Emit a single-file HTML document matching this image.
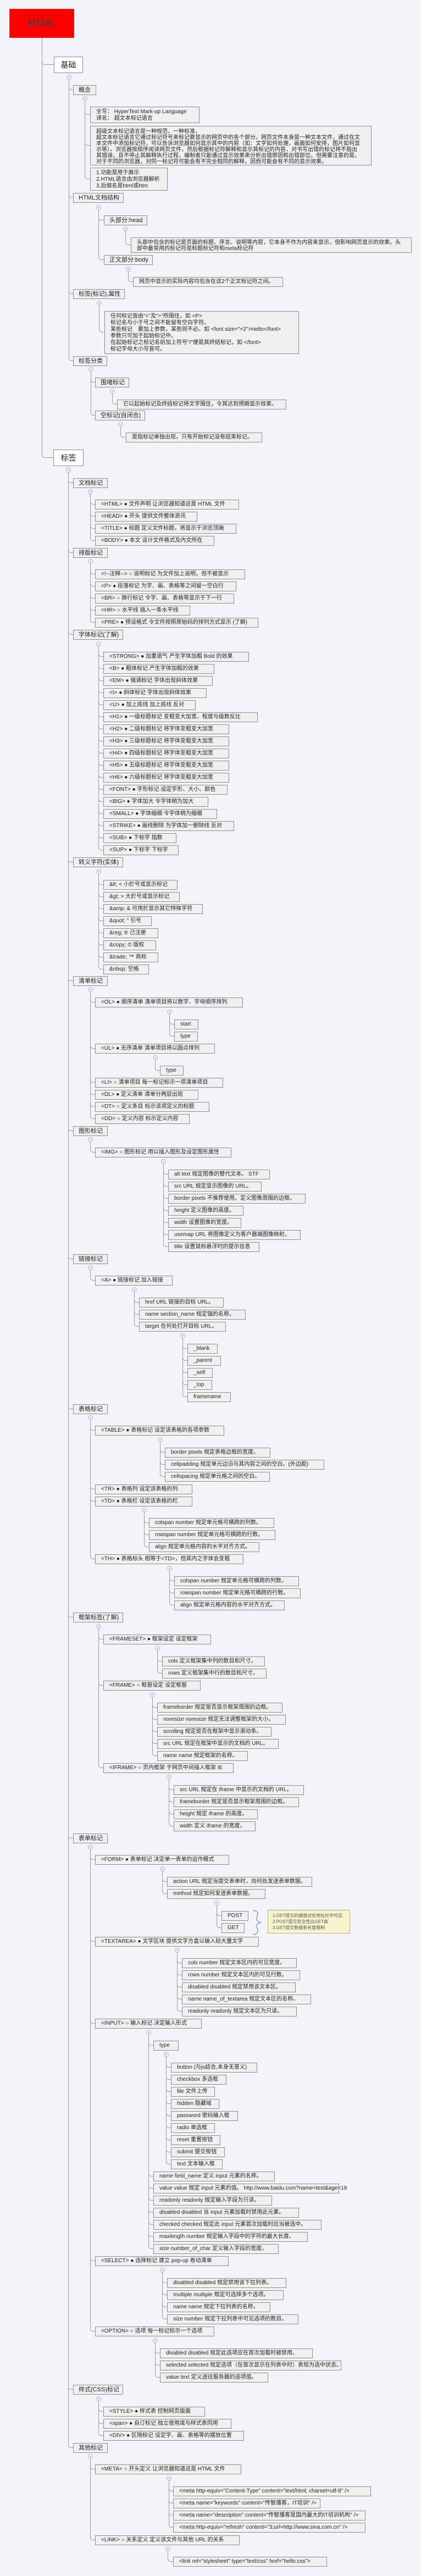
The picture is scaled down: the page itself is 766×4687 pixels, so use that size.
<!DOCTYPE html>
<html><head><meta charset="utf-8"><style>
html,body{margin:0;padding:0}
body{width:766px;height:4687px;background:#f3f4f9;position:relative;overflow:hidden;font-family:"Liberation Sans","Noto Sans CJK SC",sans-serif;color:#222}
.n{position:absolute;height:18px;box-sizing:border-box;border:1px solid #8c8c8c;background:#f0f0f0;font-size:10px;line-height:16px;padding-left:10px;white-space:nowrap;overflow:visible}
.k{font-size:11px;padding-left:9px}
.m{height:auto;line-height:12px;padding:3px 10px}
.v{position:absolute;width:1px;background:#9a9a9a}
.s{position:absolute;height:6px;border-left:1px solid #9a9a9a;border-bottom:1px solid #9a9a9a;border-bottom-left-radius:5px;box-sizing:border-box}
.c{position:absolute;width:9px;height:9px;box-sizing:border-box;border:1px solid #a8b4e0;border-radius:50%;background:#f6f7fc}
.c:after{content:"";position:absolute;left:2px;top:3px;width:3px;height:1px;background:#8090c8}
.big{position:absolute;box-sizing:border-box;border:1px solid #8c8c8c;background:#fff;font-size:14px;text-align:center;line-height:28px;height:30px}
</style></head><body>

<div style="position:absolute;left:17px;top:16px;width:118px;height:53px;background:#ff0000;border:1px solid #b33;box-sizing:border-box;text-align:center;line-height:51px;font-size:18px;font-weight:bold;color:#6a3030">HTML</div>

<!-- root -->
<div class="v" style="left:76px;top:69px;height:758px"></div>
<div class="s" style="left:76px;top:112px;width:22px"></div>
<div class="s" style="left:76px;top:827px;width:21px"></div>
<div class="big" style="left:98px;top:103px;width:53px">基础</div>
<div class="big" style="left:97px;top:818px;width:55px">标签</div>

<!-- 基础 -->
<div class="c" style="left:121px;top:136px"></div>
<div class="v" style="left:125px;top:144px;height:507px"></div>
<div class="s" style="left:125px;top:158px;width:8px"></div>
<div class="s" style="left:125px;top:354px;width:8px"></div>
<div class="s" style="left:125px;top:529px;width:8px"></div>
<div class="s" style="left:125px;top:651px;width:8px"></div>
<div class="n k" style="left:133px;top:155px;width:42px">概念</div>
<div class="n k" style="left:133px;top:351px;width:92px">HTML文档结构</div>
<div class="n k" style="left:133px;top:526px;width:94px">标签(标记),属性</div>
<div class="n k" style="left:133px;top:648px;width:62px">标签分类</div>

<div class="c" style="left:150px;top:175px"></div>
<div class="v" style="left:154px;top:183px;height:137px"></div>
<div class="s" style="left:154px;top:203px;width:10px"></div>
<div class="s" style="left:154px;top:259px;width:10px"></div>
<div class="s" style="left:154px;top:320px;width:10px"></div>
<div class="n m" style="left:164px;top:194px;width:199px;height:30px">全写： HyperText Mark-up Language<br>译名： 超文本标记语言</div>
<div class="n m" style="left:164px;top:229px;width:512px;height:72px;line-height:11px;padding-top:4px">超级文本标记语言是一种规范，一种标准，<br>超文本标记语言它通过标记符号来标记要显示的网页中的各个部分。网页文件本身是一种文本文件，通过在文<br>本文件中添加标记符，可以告诉浏览器如何显示其中的内容（如：文字如何处理，画面如何安排，图片如何显<br>示等）。浏览器按顺序阅读网页文件，然后根据标记符解释和显示其标记的内容，对书写出错的标记将不指出<br>其错误，且不停止其解释执行过程，编制者只能通过显示效果来分析出错原因和出错部位。但需要注意的是，<br>对于不同的浏览器，对同一标记符可能会有不完全相同的解释，因而可能会有不同的显示效果。</div>
<div class="n m" style="left:164px;top:305px;width:141px;height:42px">1.功能是用于展示<br>2.HTML语言由浏览器解析<br>3.后缀名是html或htm</div>

<div class="c" style="left:175px;top:373px"></div>
<div class="v" style="left:179px;top:381px;height:86px"></div>
<div class="s" style="left:179px;top:395px;width:10px"></div>
<div class="s" style="left:179px;top:467px;width:10px"></div>
<div class="n k" style="left:189px;top:392px;width:79px">头部分:head</div>
<div class="n k" style="left:189px;top:464px;width:89px">正文部分:body</div>
<div class="c" style="left:224px;top:412px"></div>
<div class="v" style="left:228px;top:420px;height:20px"></div>
<div class="s" style="left:228px;top:440px;width:10px"></div>
<div class="n m" style="left:238px;top:432px;width:511px;height:28px;line-height:11px">头部中包含的标记是页面的标题、序言、说明等内容，它本身不作为内容来显示，但影响网页显示的效果。头<br>部中最常用的标记符是标题标记符和meta标记符</div>
<div class="c" style="left:229px;top:485px"></div>
<div class="v" style="left:233px;top:493px;height:14px"></div>
<div class="s" style="left:233px;top:507px;width:9px"></div>
<div class="n" style="left:242px;top:504px;width:273px">网页中显示的实际内容均包含在这2个正文标记符之间。</div>

<div class="c" style="left:176px;top:547px"></div>
<div class="v" style="left:180px;top:555px;height:44px"></div>
<div class="s" style="left:180px;top:599px;width:10px"></div>
<div class="n m" style="left:190px;top:566px;width:354px;height:78px">任何标记皆由"&lt;"及"&gt;"所围住，如 &lt;P&gt;<br>标记名与小于号之间不能留有空白字符。<br>某些标记　要加上参数，某些则不必。如 &lt;font size="+2"&gt;Hello&lt;/font&gt;<br>参数只可加于起始标记中。<br>在起始标记之标记名前加上符号"/"便是其终结标记，如 &lt;/font&gt;<br>标记字母大小写皆可。</div>

<div class="c" style="left:161px;top:668px"></div>
<div class="v" style="left:165px;top:676px;height:74px"></div>
<div class="s" style="left:165px;top:690px;width:8px"></div>
<div class="s" style="left:165px;top:750px;width:8px"></div>
<div class="n k" style="left:173px;top:687px;width:62px">围堵标记</div>
<div class="n k" style="left:173px;top:747px;width:91px">空标记(自闭合)</div>
<div class="c" style="left:200px;top:707px"></div>
<div class="v" style="left:204px;top:715px;height:15px"></div>
<div class="s" style="left:204px;top:730px;width:9px"></div>
<div class="n" style="left:213px;top:727px;width:308px">它以起始标记及终结标记将文字围住，令其达到预期显示效果。</div>
<div class="c" style="left:215px;top:768px"></div>
<div class="v" style="left:219px;top:776px;height:14px"></div>
<div class="s" style="left:219px;top:790px;width:10px"></div>
<div class="n" style="left:229px;top:787px;width:248px">是指标记单独出现，只有开始标记没有结束标记。</div>

<!-- 标签 -->
<div class="c" style="left:120px;top:851px"></div>
<div class="v" style="left:124px;top:859px;height:3589px"></div>
<div class="s" style="left:124px;top:873px;width:9px"></div>
<div class="s" style="left:124px;top:1000px;width:9px"></div>
<div class="s" style="left:124px;top:1149px;width:9px"></div>
<div class="s" style="left:124px;top:1563px;width:9px"></div>
<div class="s" style="left:124px;top:1779px;width:9px"></div>
<div class="s" style="left:124px;top:2052px;width:9px"></div>
<div class="s" style="left:124px;top:2285px;width:9px"></div>
<div class="s" style="left:124px;top:2558px;width:9px"></div>
<div class="s" style="left:124px;top:2937px;width:9px"></div>
<div class="s" style="left:124px;top:3339px;width:9px"></div>
<div class="s" style="left:124px;top:4342px;width:9px"></div>
<div class="s" style="left:124px;top:4448px;width:9px"></div>
<div class="n k" style="left:133px;top:870px;width:63px">文档标记</div>
<div class="n k" style="left:133px;top:997px;width:63px">排版标记</div>
<div class="n k" style="left:133px;top:1146px;width:91px">字体标记(了解)</div>
<div class="n k" style="left:133px;top:1560px;width:91px">转义字符(实体)</div>
<div class="n k" style="left:133px;top:1776px;width:63px">清单标记</div>
<div class="n k" style="left:133px;top:2049px;width:63px">图形标记</div>
<div class="n k" style="left:133px;top:2282px;width:63px">链接标记</div>
<div class="n k" style="left:133px;top:2555px;width:63px">表格标记</div>
<div class="n k" style="left:133px;top:2934px;width:91px">框架标签(了解)</div>
<div class="n k" style="left:133px;top:3336px;width:63px">表单标记</div>
<div class="n k" style="left:133px;top:4339px;width:91px">样式(CSS)标记</div>
<div class="n k" style="left:133px;top:4445px;width:63px">其他标记</div>

<!-- 文档标记 -->
<div class="c" style="left:160px;top:890px"></div>
<div class="v" style="left:164px;top:898px;height:80px"></div>
<div class="s" style="left:164px;top:912px;width:9px"></div>
<div class="s" style="left:164px;top:934px;width:9px"></div>
<div class="s" style="left:164px;top:956px;width:9px"></div>
<div class="s" style="left:164px;top:978px;width:9px"></div>
<div class="n" style="left:173px;top:909px;width:262px">&lt;HTML&gt; ● 文件声明 让浏览器知道这是 HTML 文件</div>
<div class="n" style="left:173px;top:931px;width:186px">&lt;HEAD&gt; ● 开头 提供文件整体资讯</div>
<div class="n" style="left:173px;top:953px;width:257px">&lt;TITLE&gt; ● 标题 定义文件标题，将显示于浏览顶端</div>
<div class="n" style="left:173px;top:975px;width:217px">&lt;BODY&gt; ● 本文 设计文件格式及内文所在</div>

<!-- 排版标记 -->
<div class="c" style="left:160px;top:1017px"></div>
<div class="v" style="left:164px;top:1025px;height:102px"></div>
<div class="s" style="left:164px;top:1039px;width:9px"></div>
<div class="s" style="left:164px;top:1061px;width:9px"></div>
<div class="s" style="left:164px;top:1083px;width:9px"></div>
<div class="s" style="left:164px;top:1105px;width:9px"></div>
<div class="s" style="left:164px;top:1127px;width:9px"></div>
<div class="n" style="left:173px;top:1036px;width:273px">&lt;!--注释--&gt; ○ 说明标记 为文件加上说明，但不被显示</div>
<div class="n" style="left:173px;top:1058px;width:257px">&lt;P&gt; ● 段落标记 为字、画、表格等之间留一空白行</div>
<div class="n" style="left:173px;top:1080px;width:253px">&lt;BR&gt; ○ 换行标记 令字、画、表格等显示于下一行</div>
<div class="n" style="left:173px;top:1102px;width:173px">&lt;HR&gt; ○ 水平线 插入一条水平线</div>
<div class="n" style="left:173px;top:1124px;width:297px">&lt;PRE&gt; ● 预设格式 令文件按照原始码的排列方式显示 (了解)</div>

<!-- 字体标记 -->
<div class="c" style="left:175px;top:1167px"></div>
<div class="v" style="left:179px;top:1175px;height:366px"></div>
<div class="s" style="left:179px;top:1189px;width:9px"></div>
<div class="s" style="left:179px;top:1211px;width:9px"></div>
<div class="s" style="left:179px;top:1233px;width:9px"></div>
<div class="s" style="left:179px;top:1255px;width:9px"></div>
<div class="s" style="left:179px;top:1277px;width:9px"></div>
<div class="s" style="left:179px;top:1299px;width:9px"></div>
<div class="s" style="left:179px;top:1321px;width:9px"></div>
<div class="s" style="left:179px;top:1343px;width:9px"></div>
<div class="s" style="left:179px;top:1365px;width:9px"></div>
<div class="s" style="left:179px;top:1387px;width:9px"></div>
<div class="s" style="left:179px;top:1409px;width:9px"></div>
<div class="s" style="left:179px;top:1431px;width:9px"></div>
<div class="s" style="left:179px;top:1453px;width:9px"></div>
<div class="s" style="left:179px;top:1475px;width:9px"></div>
<div class="s" style="left:179px;top:1497px;width:9px"></div>
<div class="s" style="left:179px;top:1519px;width:9px"></div>
<div class="s" style="left:179px;top:1541px;width:9px"></div>
<div class="n" style="left:188px;top:1186px;width:265px">&lt;STRONG&gt; ● 加重语气 产生字体加粗 Bold 的效果</div>
<div class="n" style="left:188px;top:1208px;width:202px">&lt;B&gt; ● 粗体标记 产生字体加粗的效果</div>
<div class="n" style="left:188px;top:1230px;width:199px">&lt;EM&gt; ● 强调标记 字体出现斜体效果</div>
<div class="n" style="left:188px;top:1252px;width:188px">&lt;I&gt; ● 斜体标记 字体出现斜体效果</div>
<div class="n" style="left:188px;top:1274px;width:168px">&lt;U&gt; ● 加上底线 加上底线 反对</div>
<div class="n" style="left:188px;top:1296px;width:281px">&lt;H1&gt; ● 一级标题标记 变粗变大加宽，程度与级数反比</div>
<div class="n" style="left:188px;top:1318px;width:229px">&lt;H2&gt; ● 二级标题标记 将字体变粗变大加宽</div>
<div class="n" style="left:188px;top:1340px;width:229px">&lt;H3&gt; ● 三级标题标记 将字体变粗变大加宽</div>
<div class="n" style="left:188px;top:1362px;width:229px">&lt;H4&gt; ● 四级标题标记 将字体变粗变大加宽</div>
<div class="n" style="left:188px;top:1384px;width:229px">&lt;H5&gt; ● 五级标题标记 将字体变粗变大加宽</div>
<div class="n" style="left:188px;top:1406px;width:229px">&lt;H6&gt; ● 六级标题标记 将字体变粗变大加宽</div>
<div class="n" style="left:188px;top:1428px;width:226px">&lt;FONT&gt; ● 字形标记 设定字形、大小、颜色</div>
<div class="n" style="left:188px;top:1450px;width:191px">&lt;BIG&gt; ● 字体加大 令字体稍为加大</div>
<div class="n" style="left:188px;top:1472px;width:207px">&lt;SMALL&gt; ● 字体缩细 令字体稍为缩细</div>
<div class="n" style="left:188px;top:1494px;width:238px">&lt;STRIKE&gt; ● 画线删除 为字体加一删除线 反对</div>
<div class="n" style="left:188px;top:1516px;width:133px">&lt;SUB&gt; ● 下标字 指数</div>
<div class="n" style="left:188px;top:1538px;width:137px">&lt;SUP&gt; ● 下标字 下标字</div>

<!-- 转义字符 -->
<div class="c" style="left:175px;top:1581px"></div>
<div class="v" style="left:179px;top:1589px;height:169px"></div>
<div class="s" style="left:179px;top:1604px;width:9px"></div>
<div class="s" style="left:179px;top:1626px;width:9px"></div>
<div class="s" style="left:179px;top:1648px;width:9px"></div>
<div class="s" style="left:179px;top:1670px;width:9px"></div>
<div class="s" style="left:179px;top:1692px;width:9px"></div>
<div class="s" style="left:179px;top:1714px;width:9px"></div>
<div class="s" style="left:179px;top:1736px;width:9px"></div>
<div class="s" style="left:179px;top:1758px;width:9px"></div>
<div class="n" style="left:188px;top:1601px;width:135px">&amp;lt; &lt; 小於号或显示标记</div>
<div class="n" style="left:188px;top:1623px;width:139px">&amp;gt; &gt; 大於号或显示标记</div>
<div class="n" style="left:188px;top:1645px;width:181px">&amp;amp; &amp; 可用於显示其它特殊字符</div>
<div class="n" style="left:188px;top:1667px;width:88px">&amp;quot; " 引号</div>
<div class="n" style="left:188px;top:1689px;width:100px">&amp;reg; ® 己注册</div>
<div class="n" style="left:188px;top:1711px;width:96px">&amp;copy; © 版权</div>
<div class="n" style="left:188px;top:1733px;width:100px">&amp;trade; ™ 商标</div>
<div class="n" style="left:188px;top:1755px;width:83px">&amp;nbsp; 空格</div>

<!-- 清单标记 -->
<div class="c" style="left:160px;top:1796px"></div>
<div class="v" style="left:164px;top:1804px;height:226px"></div>
<div class="s" style="left:164px;top:1818px;width:9px"></div>
<div class="s" style="left:164px;top:1902px;width:9px"></div>
<div class="s" style="left:164px;top:1964px;width:9px"></div>
<div class="s" style="left:164px;top:1986px;width:9px"></div>
<div class="s" style="left:164px;top:2008px;width:9px"></div>
<div class="s" style="left:164px;top:2030px;width:9px"></div>
<div class="n" style="left:173px;top:1815px;width:269px">&lt;OL&gt; ● 顺序清单 清单项目将以数字、字母顺序排列</div>
<div class="n" style="left:173px;top:1899px;width:218px">&lt;UL&gt; ● 无序清单 清单项目将以圆点排列</div>
<div class="n" style="left:173px;top:1961px;width:233px">&lt;LI&gt; ○ 清单项目 每一标记标示一项清单项目</div>
<div class="n" style="left:173px;top:1983px;width:188px">&lt;DL&gt; ● 定义清单 清单分两层出现</div>
<div class="n" style="left:173px;top:2005px;width:208px">&lt;DT&gt; ○ 定义条目 标示该项定义的标题</div>
<div class="n" style="left:173px;top:2027px;width:172px">&lt;DD&gt; ○ 定义内容 标示定义内容</div>
<div class="c" style="left:304px;top:1836px"></div>
<div class="v" style="left:308px;top:1844px;height:36px"></div>
<div class="s" style="left:308px;top:1858px;width:9px"></div>
<div class="s" style="left:308px;top:1880px;width:9px"></div>
<div class="n" style="left:317px;top:1855px;width:44px">start</div>
<div class="n" style="left:317px;top:1877px;width:43px">type</div>
<div class="c" style="left:278px;top:1920px"></div>
<div class="v" style="left:282px;top:1928px;height:14px"></div>
<div class="s" style="left:282px;top:1942px;width:9px"></div>
<div class="n" style="left:291px;top:1939px;width:43px">type</div>

<!-- 图形标记 -->
<div class="c" style="left:160px;top:2069px"></div>
<div class="v" style="left:164px;top:2077px;height:14px"></div>
<div class="s" style="left:164px;top:2091px;width:9px"></div>
<div class="n" style="left:173px;top:2088px;width:248px">&lt;IMG&gt; ○ 图形标记 用以插入图形及设定图形属性</div>
<div class="c" style="left:293px;top:2109px"></div>
<div class="v" style="left:297px;top:2117px;height:146px"></div>
<div class="s" style="left:297px;top:2131px;width:9px"></div>
<div class="s" style="left:297px;top:2153px;width:9px"></div>
<div class="s" style="left:297px;top:2175px;width:9px"></div>
<div class="s" style="left:297px;top:2197px;width:9px"></div>
<div class="s" style="left:297px;top:2219px;width:9px"></div>
<div class="s" style="left:297px;top:2241px;width:9px"></div>
<div class="s" style="left:297px;top:2263px;width:9px"></div>
<div class="n" style="left:306px;top:2128px;width:185px">alt text 规定图像的替代文本。 STF</div>
<div class="n" style="left:306px;top:2150px;width:170px">src URL 规定显示图像的 URL。</div>
<div class="n" style="left:306px;top:2172px;width:250px">border pixels 不推荐使用。定义图像周围的边框。</div>
<div class="n" style="left:306px;top:2194px;width:137px">height 定义图像的高度。</div>
<div class="n" style="left:306px;top:2216px;width:133px">width 设置图像的宽度。</div>
<div class="n" style="left:306px;top:2238px;width:241px">usemap URL 将图像定义为客户器端图像映射。</div>
<div class="n" style="left:306px;top:2260px;width:166px">title 设置鼠标悬浮时的提示信息</div>

<!-- 链接标记 -->
<div class="c" style="left:160px;top:2302px"></div>
<div class="v" style="left:164px;top:2310px;height:14px"></div>
<div class="s" style="left:164px;top:2324px;width:9px"></div>
<div class="n" style="left:173px;top:2321px;width:141px">&lt;A&gt; ● 链接标记 加入链接</div>
<div class="c" style="left:240px;top:2342px"></div>
<div class="v" style="left:244px;top:2350px;height:58px"></div>
<div class="s" style="left:244px;top:2364px;width:9px"></div>
<div class="s" style="left:244px;top:2386px;width:9px"></div>
<div class="s" style="left:244px;top:2408px;width:9px"></div>
<div class="n" style="left:253px;top:2361px;width:154px">href URL 链接的目标 URL。</div>
<div class="n" style="left:253px;top:2383px;width:194px">name section_name 规定锚的名称。</div>
<div class="n" style="left:253px;top:2405px;width:158px">target 在何处打开目标 URL。</div>
<div class="c" style="left:328px;top:2426px"></div>
<div class="v" style="left:332px;top:2434px;height:102px"></div>
<div class="s" style="left:332px;top:2448px;width:9px"></div>
<div class="s" style="left:332px;top:2470px;width:9px"></div>
<div class="s" style="left:332px;top:2492px;width:9px"></div>
<div class="s" style="left:332px;top:2514px;width:9px"></div>
<div class="s" style="left:332px;top:2536px;width:9px"></div>
<div class="n" style="left:341px;top:2445px;width:55px">_blank</div>
<div class="n" style="left:341px;top:2467px;width:61px">_parent</div>
<div class="n" style="left:341px;top:2489px;width:46px">_self</div>
<div class="n" style="left:341px;top:2511px;width:45px">_top</div>
<div class="n" style="left:341px;top:2533px;width:79px">framename</div>

<!-- 表格标记 -->
<div class="c" style="left:160px;top:2575px"></div>
<div class="v" style="left:164px;top:2583px;height:248px"></div>
<div class="s" style="left:164px;top:2597px;width:9px"></div>
<div class="s" style="left:164px;top:2704px;width:9px"></div>
<div class="s" style="left:164px;top:2726px;width:9px"></div>
<div class="s" style="left:164px;top:2831px;width:9px"></div>
<div class="n" style="left:173px;top:2594px;width:235px">&lt;TABLE&gt; ● 表格标记 设定该表格的各项参数</div>
<div class="n" style="left:173px;top:2701px;width:177px">&lt;TR&gt; ● 表格列 设定该表格的列</div>
<div class="n" style="left:173px;top:2723px;width:177px">&lt;TD&gt; ● 表格栏 设定该表格的栏</div>
<div class="n" style="left:173px;top:2828px;width:270px">&lt;TH&gt; ● 表格标头 相等于&lt;TD&gt;，但其内之字体会变粗</div>
<div class="c" style="left:287px;top:2615px"></div>
<div class="v" style="left:291px;top:2623px;height:58px"></div>
<div class="s" style="left:291px;top:2637px;width:9px"></div>
<div class="s" style="left:291px;top:2659px;width:9px"></div>
<div class="s" style="left:291px;top:2681px;width:9px"></div>
<div class="n" style="left:300px;top:2634px;width:192px">border pixels 规定表格边框的宽度。</div>
<div class="n" style="left:300px;top:2656px;width:290px">cellpadding 规定单元边沿与其内容之间的空白。(外边距)</div>
<div class="n" style="left:300px;top:2678px;width:191px">cellspacing 规定单元格之间的空白。</div>
<div class="c" style="left:258px;top:2743px"></div>
<div class="v" style="left:262px;top:2751px;height:58px"></div>
<div class="s" style="left:262px;top:2765px;width:9px"></div>
<div class="s" style="left:262px;top:2787px;width:9px"></div>
<div class="s" style="left:262px;top:2809px;width:9px"></div>
<div class="n" style="left:271px;top:2762px;width:228px">colspan number 规定单元格可横跨的列数。</div>
<div class="n" style="left:271px;top:2784px;width:230px">rowspan number 规定单元格可横跨的行数。</div>
<div class="n" style="left:271px;top:2806px;width:201px">align 规定单元格内容的水平对齐方式。</div>
<div class="c" style="left:304px;top:2849px"></div>
<div class="v" style="left:308px;top:2857px;height:58px"></div>
<div class="s" style="left:308px;top:2871px;width:9px"></div>
<div class="s" style="left:308px;top:2893px;width:9px"></div>
<div class="s" style="left:308px;top:2915px;width:9px"></div>
<div class="n" style="left:317px;top:2868px;width:227px">colspan number 规定单元格可横跨的列数。</div>
<div class="n" style="left:317px;top:2890px;width:230px">rowspan number 规定单元格可横跨的行数。</div>
<div class="n" style="left:317px;top:2912px;width:201px">align 规定单元格内容的水平对齐方式。</div>

<!-- 框架标签 -->
<div class="c" style="left:175px;top:2955px"></div>
<div class="v" style="left:179px;top:2963px;height:248px"></div>
<div class="s" style="left:179px;top:2977px;width:9px"></div>
<div class="s" style="left:179px;top:3061px;width:9px"></div>
<div class="s" style="left:179px;top:3211px;width:9px"></div>
<div class="n" style="left:188px;top:2974px;width:196px">&lt;FRAMESET&gt; ● 框架设定 设定框架</div>
<div class="n" style="left:188px;top:3058px;width:177px">&lt;FRAME&gt; ○ 框窗设定 设定框窗</div>
<div class="n" style="left:188px;top:3208px;width:237px">&lt;IFRAME&gt; ○ 页内框架 于网页中间插入框架 IE</div>
<div class="c" style="left:282px;top:2995px"></div>
<div class="v" style="left:286px;top:3003px;height:36px"></div>
<div class="s" style="left:286px;top:3017px;width:9px"></div>
<div class="s" style="left:286px;top:3039px;width:9px"></div>
<div class="n" style="left:295px;top:3014px;width:187px">cols 定义框架集中列的数目和尺寸。</div>
<div class="n" style="left:295px;top:3036px;width:190px">rows 定义框架集中行的数目和尺寸。</div>
<div class="c" style="left:273px;top:3079px"></div>
<div class="v" style="left:277px;top:3087px;height:102px"></div>
<div class="s" style="left:277px;top:3101px;width:9px"></div>
<div class="s" style="left:277px;top:3123px;width:9px"></div>
<div class="s" style="left:277px;top:3145px;width:9px"></div>
<div class="s" style="left:277px;top:3167px;width:9px"></div>
<div class="s" style="left:277px;top:3189px;width:9px"></div>
<div class="n" style="left:286px;top:3098px;width:228px">frameborder 规定是否显示框架周围的边框。</div>
<div class="n" style="left:286px;top:3120px;width:234px">noresize noresize 规定无法调整框架的大小。</div>
<div class="n" style="left:286px;top:3142px;width:208px">scrolling 规定是否在框架中显示滚动条。</div>
<div class="n" style="left:286px;top:3164px;width:221px">src URL 规定在框架中显示的文档的 URL。</div>
<div class="n" style="left:286px;top:3186px;width:165px">name name 规定框架的名称。</div>
<div class="c" style="left:303px;top:3229px"></div>
<div class="v" style="left:307px;top:3237px;height:80px"></div>
<div class="s" style="left:307px;top:3251px;width:9px"></div>
<div class="s" style="left:307px;top:3273px;width:9px"></div>
<div class="s" style="left:307px;top:3295px;width:9px"></div>
<div class="s" style="left:307px;top:3317px;width:9px"></div>
<div class="n" style="left:316px;top:3248px;width:237px">src URL 规定在 iframe 中显示的文档的 URL。</div>
<div class="n" style="left:316px;top:3270px;width:228px">frameborder 规定是否显示框架周围的边框。</div>
<div class="n" style="left:316px;top:3292px;width:153px">height 规定 iframe 的高度。</div>
<div class="n" style="left:316px;top:3314px;width:149px">width 定义 iframe 的宽度。</div>

<!-- 表单标记 -->
<div class="c" style="left:160px;top:3356px"></div>
<div class="v" style="left:164px;top:3364px;height:872px"></div>
<div class="s" style="left:164px;top:3378px;width:9px"></div>
<div class="s" style="left:164px;top:3527px;width:9px"></div>
<div class="s" style="left:164px;top:3676px;width:9px"></div>
<div class="s" style="left:164px;top:4108px;width:9px"></div>
<div class="s" style="left:164px;top:4236px;width:9px"></div>
<div class="n" style="left:173px;top:3375px;width:244px">&lt;FORM&gt; ● 表单标记 决定单一表单的运作模式</div>
<div class="n" style="left:173px;top:3524px;width:298px">&lt;TEXTAREA&gt; ● 文字区块 提供文字方盒以输入较大量文字</div>
<div class="n" style="left:173px;top:3673px;width:194px">&lt;INPUT&gt; ○ 输入标记 决定输入形式</div>
<div class="n" style="left:173px;top:4105px;width:243px">&lt;SELECT&gt; ● 选择标记 建立 pop-up 卷动清单</div>
<div class="n" style="left:173px;top:4233px;width:217px">&lt;OPTION&gt; ○ 选项 每一标记标示一个选项</div>
<div class="c" style="left:291px;top:3396px"></div>
<div class="v" style="left:295px;top:3404px;height:36px"></div>
<div class="s" style="left:295px;top:3418px;width:9px"></div>
<div class="s" style="left:295px;top:3440px;width:9px"></div>
<div class="n" style="left:304px;top:3415px;width:264px">action URL 规定当提交表单时，向何处发送表单数据。</div>
<div class="n" style="left:304px;top:3437px;width:179px">method  规定如何发送表单数据。</div>
<div class="c" style="left:390px;top:3458px"></div>
<div class="v" style="left:394px;top:3466px;height:36px"></div>
<div class="s" style="left:394px;top:3480px;width:9px"></div>
<div class="s" style="left:394px;top:3502px;width:9px"></div>
<div class="n" style="left:403px;top:3477px;width:49px">POST</div>
<div class="n" style="left:403px;top:3499px;width:42px">GET</div>
<svg style="position:absolute;left:458px;top:3475px" width="20" height="46"><path d="M2 1 Q14 2 10 12 Q6 20 16 23 Q6 26 10 34 Q14 44 2 45" fill="none" stroke="#888" stroke-width="1.2"/></svg>
<div style="position:absolute;left:487px;top:3475px;width:150px;height:43px;box-sizing:border-box;border:1px solid #b5ad84;background:#f7f3cd;font-size:8px;line-height:11px;padding:4px 8px;white-space:nowrap;overflow:hidden;color:#555">1.GET提交的键值对在地址栏中可见<br>2.POST提交安全性比GET高<br>3.GET提交数据有长度限制</div>

<div class="c" style="left:318px;top:3544px"></div>
<div class="v" style="left:322px;top:3552px;height:102px"></div>
<div class="s" style="left:322px;top:3566px;width:9px"></div>
<div class="s" style="left:322px;top:3588px;width:9px"></div>
<div class="s" style="left:322px;top:3610px;width:9px"></div>
<div class="s" style="left:322px;top:3632px;width:9px"></div>
<div class="s" style="left:322px;top:3654px;width:9px"></div>
<div class="n" style="left:331px;top:3563px;width:209px">cols number 规定文本区内的可见宽度。</div>
<div class="n" style="left:331px;top:3585px;width:215px">rows number 规定文本区内的可见行数。</div>
<div class="n" style="left:331px;top:3607px;width:207px">disabled disabled 规定禁用该文本区。</div>
<div class="n" style="left:331px;top:3629px;width:235px">name name_of_textarea 规定文本区的名称。</div>
<div class="n" style="left:331px;top:3651px;width:209px">readonly readonly 规定文本区为只读。</div>

<div class="c" style="left:266px;top:3694px"></div>
<div class="v" style="left:270px;top:3702px;height:384px"></div>
<div class="s" style="left:270px;top:3716px;width:9px"></div>
<div class="s" style="left:270px;top:3954px;width:9px"></div>
<div class="s" style="left:270px;top:3976px;width:9px"></div>
<div class="s" style="left:270px;top:3998px;width:9px"></div>
<div class="s" style="left:270px;top:4020px;width:9px"></div>
<div class="s" style="left:270px;top:4042px;width:9px"></div>
<div class="s" style="left:270px;top:4064px;width:9px"></div>
<div class="s" style="left:270px;top:4086px;width:9px"></div>
<div class="n" style="left:279px;top:3713px;width:46px">type</div>
<div class="n" style="left:279px;top:3951px;width:221px">name field_name 定义 input 元素的名称。</div>
<div class="n" style="left:279px;top:3973px;width:338px">value value 规定 input 元素的值。 http://www.baidu.com?name=test&amp;age=18</div>
<div class="n" style="left:279px;top:3995px;width:216px">readonly readonly 规定输入字段为只读。</div>
<div class="n" style="left:279px;top:4017px;width:265px">disabled disabled 当 input 元素加载时禁用此元素。</div>
<div class="n" style="left:279px;top:4039px;width:306px">checked checked 规定此 input 元素首次加载时应当被选中。</div>
<div class="n" style="left:279px;top:4061px;width:281px">maxlength number 规定输入字段中的字符的最大长度。</div>
<div class="n" style="left:279px;top:4083px;width:228px">size number_of_char 定义输入字段的宽度。</div>
<div class="c" style="left:298px;top:3734px"></div>
<div class="v" style="left:302px;top:3742px;height:190px"></div>
<div class="s" style="left:302px;top:3756px;width:9px"></div>
<div class="s" style="left:302px;top:3778px;width:9px"></div>
<div class="s" style="left:302px;top:3800px;width:9px"></div>
<div class="s" style="left:302px;top:3822px;width:9px"></div>
<div class="s" style="left:302px;top:3844px;width:9px"></div>
<div class="s" style="left:302px;top:3866px;width:9px"></div>
<div class="s" style="left:302px;top:3888px;width:9px"></div>
<div class="s" style="left:302px;top:3910px;width:9px"></div>
<div class="s" style="left:302px;top:3932px;width:9px"></div>
<div class="n" style="left:311px;top:3753px;width:157px">button (与js结合,本身无意义)</div>
<div class="n" style="left:311px;top:3775px;width:101px">checkbox 多选框</div>
<div class="n" style="left:311px;top:3797px;width:80px">file 文件上传</div>
<div class="n" style="left:311px;top:3819px;width:88px">hidden 隐藏域</div>
<div class="n" style="left:311px;top:3841px;width:122px">password 密码输入框</div>
<div class="n" style="left:311px;top:3863px;width:80px">radio 单选框</div>
<div class="n" style="left:311px;top:3885px;width:90px">reset 重置按钮</div>
<div class="n" style="left:311px;top:3907px;width:98px">submit 提交按钮</div>
<div class="n" style="left:311px;top:3929px;width:94px">text 文本输入框</div>

<div class="c" style="left:291px;top:4126px"></div>
<div class="v" style="left:295px;top:4134px;height:80px"></div>
<div class="s" style="left:295px;top:4148px;width:9px"></div>
<div class="s" style="left:295px;top:4170px;width:9px"></div>
<div class="s" style="left:295px;top:4192px;width:9px"></div>
<div class="s" style="left:295px;top:4214px;width:9px"></div>
<div class="n" style="left:304px;top:4145px;width:217px">disabled disabled 规定禁用该下拉列表。</div>
<div class="n" style="left:304px;top:4167px;width:212px">multiple multiple 规定可选择多个选项。</div>
<div class="n" style="left:304px;top:4189px;width:188px">name name 规定下拉列表的名称。</div>
<div class="n" style="left:304px;top:4211px;width:239px">size number 规定下拉列表中可见选项的数目。</div>
<div class="c" style="left:278px;top:4254px"></div>
<div class="v" style="left:282px;top:4262px;height:58px"></div>
<div class="s" style="left:282px;top:4276px;width:9px"></div>
<div class="s" style="left:282px;top:4298px;width:9px"></div>
<div class="s" style="left:282px;top:4320px;width:9px"></div>
<div class="n" style="left:291px;top:4273px;width:278px">disabled disabled 规定此选项应在首次加载时被禁用。</div>
<div class="n" style="left:291px;top:4295px;width:330px">selected selected 规定选项（在首次显示在列表中时）表现为选中状态。</div>
<div class="n" style="left:291px;top:4317px;width:197px">value text 定义送往服务器的选项值。</div>

<!-- 样式 -->
<div class="c" style="left:175px;top:4360px"></div>
<div class="v" style="left:179px;top:4368px;height:58px"></div>
<div class="s" style="left:179px;top:4382px;width:9px"></div>
<div class="s" style="left:179px;top:4404px;width:9px"></div>
<div class="s" style="left:179px;top:4426px;width:9px"></div>
<div class="n" style="left:188px;top:4379px;width:185px">&lt;STYLE&gt; ● 样式表 控制网页版面</div>
<div class="n" style="left:188px;top:4401px;width:233px">&lt;span&gt; ● 自订标记 独立使用或与样式表同用</div>
<div class="n" style="left:188px;top:4423px;width:256px">&lt;DIV&gt; ● 区隔标记 设定字、画、表格等的摆放位置</div>

<!-- 其他 -->
<div class="c" style="left:160px;top:4465px"></div>
<div class="v" style="left:164px;top:4473px;height:143px"></div>
<div class="s" style="left:164px;top:4487px;width:9px"></div>
<div class="s" style="left:164px;top:4616px;width:9px"></div>
<div class="n" style="left:173px;top:4484px;width:266px">&lt;META&gt; ○ 开头定义 让浏览器知道这是 HTML 文件</div>
<div class="n" style="left:173px;top:4613px;width:263px">&lt;LINK&gt; ○ 关系定义 定义该文件与其他 URL 的关系</div>
<div class="c" style="left:303px;top:4505px"></div>
<div class="v" style="left:307px;top:4513px;height:80px"></div>
<div class="s" style="left:307px;top:4527px;width:8px"></div>
<div class="s" style="left:307px;top:4549px;width:8px"></div>
<div class="s" style="left:307px;top:4571px;width:8px"></div>
<div class="s" style="left:307px;top:4593px;width:8px"></div>
<div class="n" style="left:315px;top:4524px;width:360px">&lt;meta http-equiv="Content-Type" content="text/html; charset=utf-8" /&gt;</div>
<div class="n" style="left:315px;top:4546px;width:268px">&lt;meta name="keywords" content="传智播客，IT培训" /&gt;</div>
<div class="n" style="left:315px;top:4568px;width:350px">&lt;meta name="description" content="传智播客是国内最大的IT培训机构" /&gt;</div>
<div class="n" style="left:315px;top:4590px;width:350px">&lt;meta http-equiv="refresh" content="3;url=http://www.sina.com.cn" /&gt;</div>
<div class="c" style="left:301px;top:4633px"></div>
<div class="v" style="left:305px;top:4641px;height:14px"></div>
<div class="s" style="left:305px;top:4655px;width:10px"></div>
<div class="n" style="left:315px;top:4652px;width:280px">&lt;link rel="stylesheet" type="text/css" href="hello.css"&gt;</div>

</body></html>
